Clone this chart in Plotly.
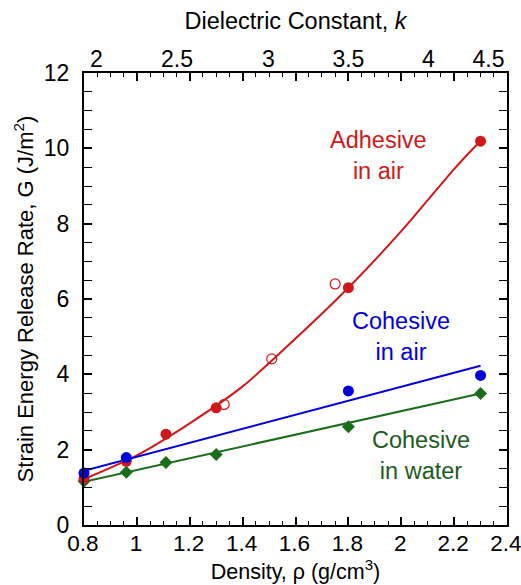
import plotly.graph_objects as go

# ---- data ----
density = [0.8, 0.96, 1.11, 1.30, 1.80, 2.30]
adhesive_air = [1.24, 1.69, 2.41, 3.11, 6.30, 10.19]
cohesive_air = [1.38, 1.79, None, None, 3.56, 3.97]
cohesive_water = [1.16, 1.40, 1.66, 1.87, 2.61, 3.49]

open_density = [1.33, 1.51, 1.75]
open_adhesive = [3.20, 4.41, 6.40]

# fitted curve / lines
fit_red_x = [0.8, 1.0, 1.2, 1.4, 1.6, 1.8, 2.0, 2.2, 2.3]
fit_red_y = [1.22, 1.85, 2.70, 3.68, 4.95, 6.30, 7.80, 9.45, 10.2]
fit_blue_x = [0.8, 2.3]
fit_blue_y = [1.44, 4.23]
fit_green_x = [0.8, 2.3]
fit_green_y = [1.15, 3.49]

# tick labels
x_ticks = [0.8, 1.0, 1.2, 1.4, 1.6, 1.8, 2.0, 2.2, 2.4]
x_ticklabels = ["0.8", "1", "1.2", "1.4", "1.6", "1.8", "2", "2.2", "2.4"]
# top axis: dielectric constant labels at equivalent density positions
k_labels = ["2", "2.5", "3", "3.5", "4", "4.5"]
k_positions = [0.847, 1.152, 1.497, 1.800, 2.103, 2.330]

RED = "#d01818"
BLUE = "#0000dd"
GREEN = "#1a6e1a"
GREEN_TXT = "#1d5a1d"
FONT = "Liberation Sans, Arial, sans-serif"

fig = go.Figure()

fig.add_trace(go.Scatter(x=fit_red_x, y=fit_red_y, mode="lines",
                         line=dict(color=RED, width=2, shape="spline", smoothing=0.8),
                         hoverinfo="skip"))
fig.add_trace(go.Scatter(x=fit_blue_x, y=fit_blue_y, mode="lines",
                         line=dict(color=BLUE, width=2), hoverinfo="skip"))
fig.add_trace(go.Scatter(x=fit_green_x, y=fit_green_y, mode="lines",
                         line=dict(color=GREEN, width=2), hoverinfo="skip"))

fig.add_trace(go.Scatter(x=density, y=cohesive_water, mode="markers",
                         marker=dict(symbol="diamond", size=10, color=GREEN),
                         cliponaxis=False))
fig.add_trace(go.Scatter(x=density, y=adhesive_air, mode="markers",
                         marker=dict(symbol="circle", size=11, color=RED),
                         cliponaxis=False))
fig.add_trace(go.Scatter(x=open_density, y=open_adhesive, mode="markers",
                         marker=dict(symbol="circle-open", size=10, color=RED,
                                     line=dict(width=1.2, color=RED)),
                         cliponaxis=False))
fig.add_trace(go.Scatter(x=density, y=cohesive_air, mode="markers",
                         marker=dict(symbol="circle", size=11, color=BLUE),
                         cliponaxis=False))

# invisible trace to activate the top axis
fig.add_trace(go.Scatter(x=k_positions, y=[None] * len(k_positions), xaxis="x2",
                         mode="markers", showlegend=False, hoverinfo="skip"))

annotations = [
    dict(x=1.915, y=9.8, text="Adhesive<br>in air", color=RED),
    dict(x=2.0, y=5.0, text="Cohesive<br>in air", color=BLUE),
    dict(x=2.075, y=1.85, text="Cohesive<br>in water", color=GREEN_TXT),
]
for a in annotations:
    fig.add_annotation(x=a["x"], y=a["y"], text=a["text"], showarrow=False,
                       xref="x", yref="y", align="center",
                       font=dict(family=FONT, size=23.5, color=a["color"]))

TF = dict(family=FONT, size=23, color="black")
axis_common = dict(showline=True, linewidth=2, linecolor="black", ticks="inside",
                   tickcolor="black", tickwidth=1.5, ticklen=8, showgrid=False,
                   zeroline=False, automargin=False)

fig.update_layout(
    width=521, height=585,
    margin=dict(l=84, r=14, t=73, b=60),
    paper_bgcolor="white", plot_bgcolor="white",
    showlegend=False,
    font=dict(family=FONT, color="black"),
    xaxis=dict(range=[0.8, 2.4], tickmode="array", tickvals=x_ticks, ticktext=x_ticklabels,
               mirror="allticks", ticklabelstandoff=-3, ticklabeloverflow="allow",
               ticklabelshift=-1,
               tickfont=dict(family=FONT, size=22.5, color="black"),
               minor=dict(ticks="inside", tick0=0.8, dtick=0.05, ticklen=4,
                          tickcolor="black", tickwidth=1.2),
               title=dict(text="Density, ρ (g/cm<sup>3</sup>)", standoff=9,
                          font=dict(family=FONT, size=21.5, color="black")),
               **axis_common),
    yaxis=dict(range=[0, 12], tick0=0, dtick=2, mirror="allticks", ticklabelstandoff=8,
               tickfont=TF,
               minor=dict(ticks="inside", dtick=0.5, ticklen=4, tickcolor="black", tickwidth=1.2),
               title=dict(text="Strain Energy Release Rate, G (J/m<sup>2</sup>)", standoff=4,
                          font=dict(family=FONT, size=22, color="black")),
               **axis_common),
    xaxis2=dict(overlaying="x", side="top", range=[0.8, 2.4], tickmode="array",
                tickvals=k_positions, ticktext=k_labels, ticks="", showline=False,
                showgrid=False, zeroline=False, automargin=False, tickfont=TF,
                ticklabelstandoff=0, ticklabeloverflow="allow",
                title=dict(text="Dielectric Constant, <i>k</i>", standoff=10,
                           font=dict(family=FONT, size=23.5, color="black"))),
)

fig.write_html("out.html", config={"displayModeBar": False},
               post_script="document.body.style.margin='0';")
